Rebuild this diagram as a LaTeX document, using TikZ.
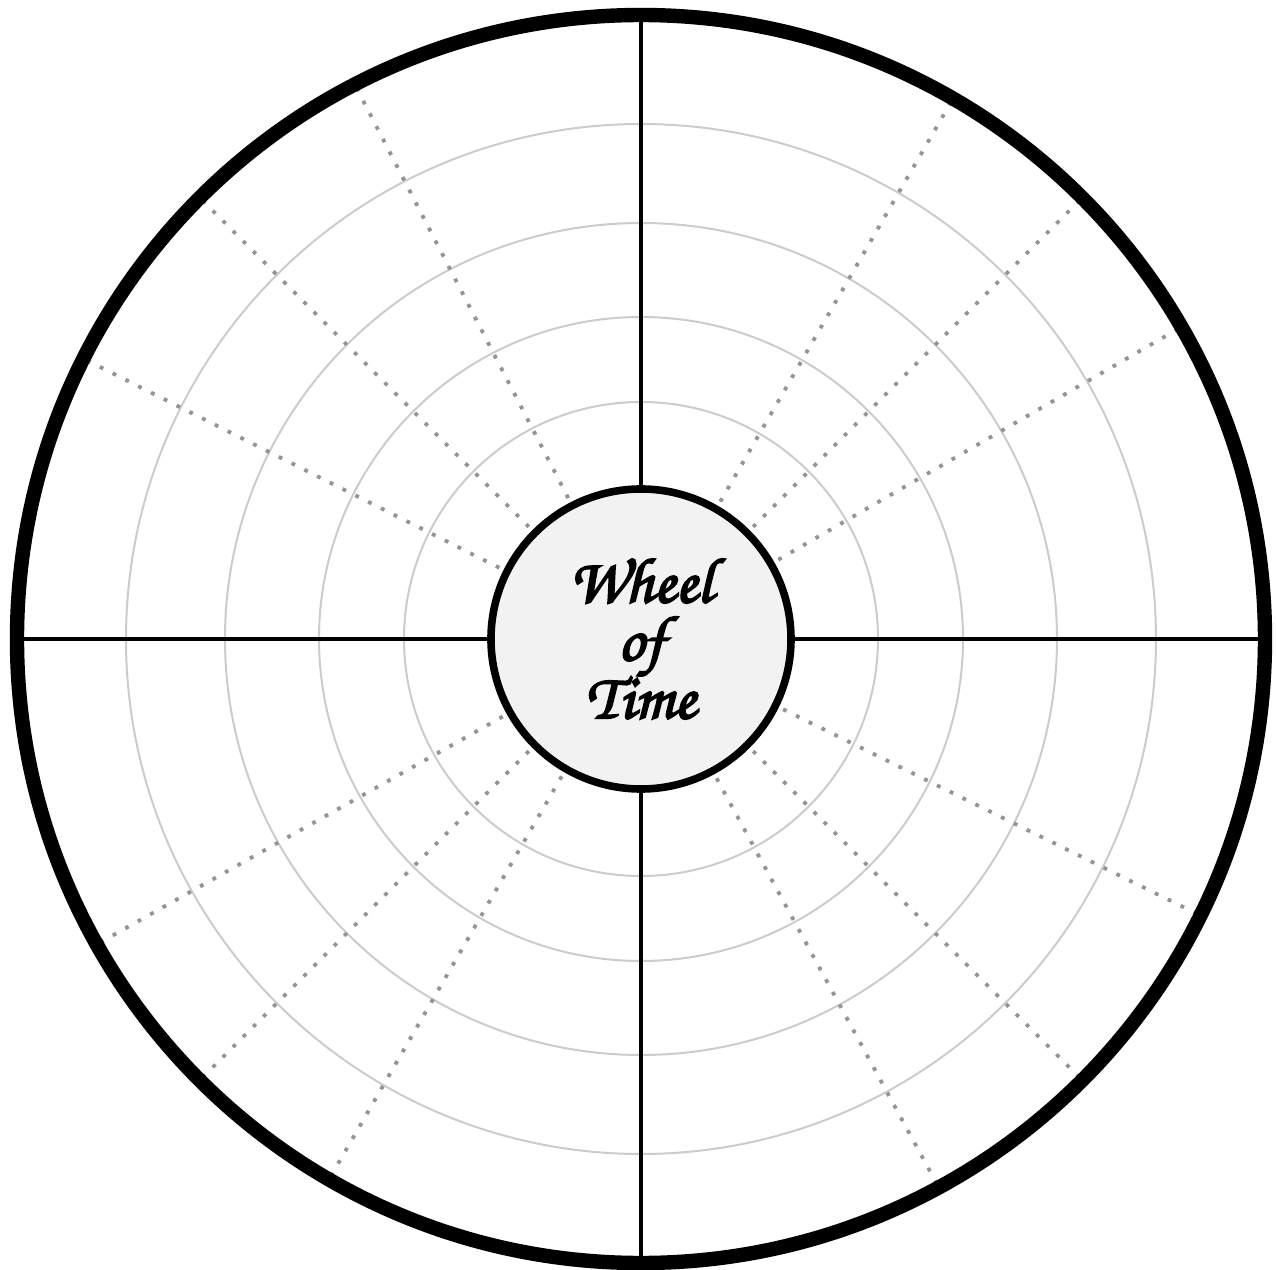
\documentclass[tikz,border=0pt]{standalone}
\usepackage{fontspec}
\newfontfamily\wheelfont[FakeBold=3]{texgyrechorus-mediumitalic.otf}
\begin{document}
\begin{tikzpicture}[x=0.5pt,y=0.5pt,
  ringline/.style={draw=black, line width=7.2pt},
  axisline/.style={draw=black, line width=2pt},
  guide/.style={draw=black!20, line width=1pt},
  dotline/.style={draw=black!42, line width=1.9pt, dash pattern=on 1.9pt off 5.25pt},
  hubstyle/.style={circle, draw=black, line width=3.8pt, fill=black!5, minimum size=150pt, inner sep=0pt, align=center,
    font={\wheelfont\fontsize{32}{29}\selectfont}}]
\useasboundingbox (-641,-631) rectangle (635,639);
\fill[white] (-641,-631) rectangle (635,639);
\coordinate (C) at (0,0);
% guide circles
\foreach \r in {118.5pt,161pt,208pt,257.5pt}
  \draw[guide] (C) circle[radius=\r];
% hub outline used as connector target
\path (C) node[hubstyle, draw=none, fill=none] (hubshape) {};
% dotted radial lines
\foreach \a [count=\i] in {30,45,60,117.3,135,153.3,209.3,225,240,298.5,315,333.7} {
  \coordinate (D\i) at (\a:620);
  \draw[dotline] (D\i) -- (hubshape);
}
% axes
\coordinate (N) at (90:624);
\coordinate (S) at (270:624);
\coordinate (E) at (0:624);
\coordinate (W) at (180:624);
\draw[axisline] (N) -- (hubshape);
\draw[axisline] (S) -- (hubshape);
\draw[axisline] (E) -- (hubshape);
\draw[axisline] (W) -- (hubshape);
% outer ring
\draw[ringline] (C) circle[radius=312pt];
% hub
\node[hubstyle] (hub) at (C) {Wheel\\of\\Time};
\end{tikzpicture}
\end{document}
